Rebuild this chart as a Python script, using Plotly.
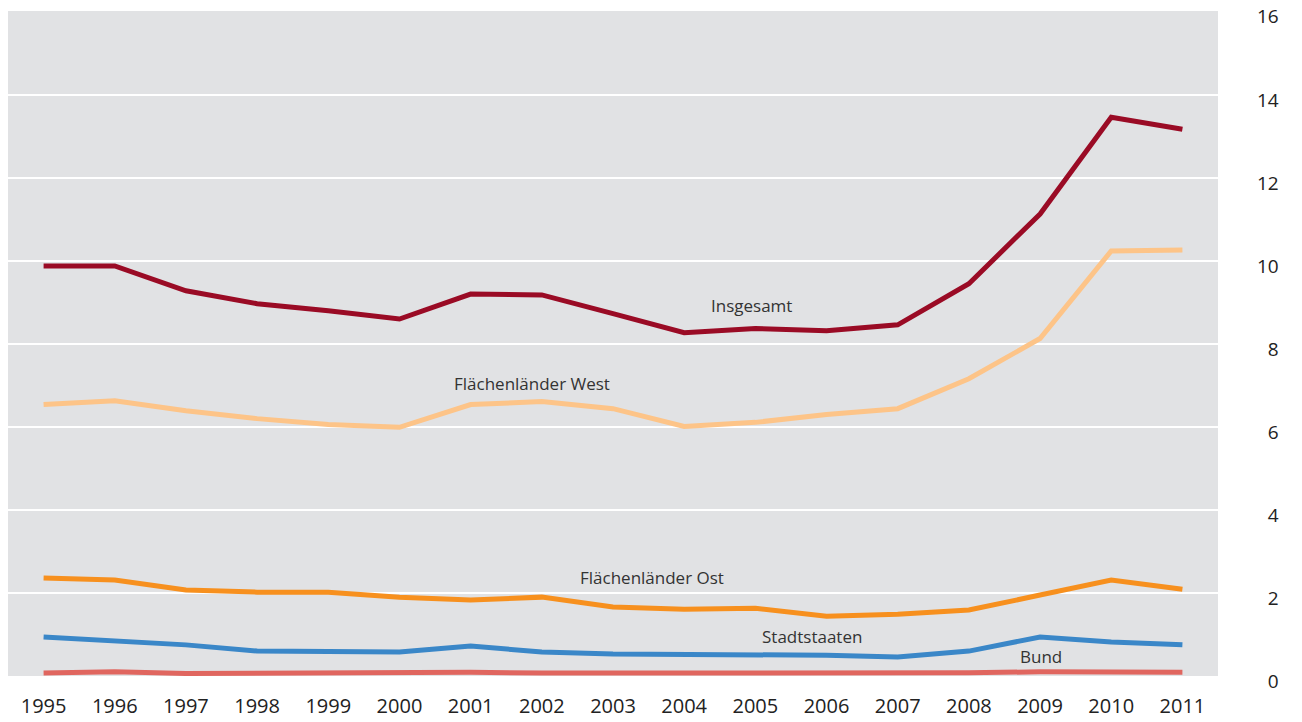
import plotly.graph_objects as go

years = [str(y) for y in range(1995, 2012)]
insgesamt = [9.88, 9.88, 9.28, 8.97, 8.8, 8.6, 9.2, 9.18, 8.73, 8.27, 8.37, 8.32, 8.46, 9.45, 11.13, 13.46, 13.17]
west = [6.54, 6.63, 6.39, 6.2, 6.06, 5.99, 6.54, 6.61, 6.44, 6.01, 6.11, 6.3, 6.44, 7.16, 8.13, 10.24, 10.26]
ost = [2.36, 2.31, 2.07, 2.02, 2.02, 1.9, 1.83, 1.9, 1.66, 1.61, 1.63, 1.44, 1.49, 1.59, 1.95, 2.31, 2.09]
stadt = [0.94, 0.84, 0.75, 0.6, 0.6, 0.58, 0.72, 0.58, 0.53, 0.53, 0.53, 0.5, 0.46, 0.6, 0.94, 0.82, 0.75]
bund = [0.07, 0.1, 0.06, 0.07, 0.08, 0.08, 0.09, 0.07, 0.07, 0.06, 0.06, 0.05, 0.06, 0.08, 0.1, 0.09, 0.09]
y_ticks = [0, 2, 4, 6, 8, 10, 12, 14, 16]

series = [
    ("Bund", bund, "#e0665f"),
    ("Stadtstaaten", stadt, "#3a87c8"),
    ("Flächenländer Ost", ost, "#f7901e"),
    ("Flächenländer West", west, "#fdc488"),
    ("Insgesamt", insgesamt, "#9a0b25"),
]

fig = go.Figure()
for name, vals, col in series:
    fig.add_trace(go.Scatter(x=years, y=vals, mode="lines", name=name,
                             line=dict(color=col, width=5), hoverinfo="x+y+name"))

# label text, position on category axis (fractional index), y value
labels = [
    ("Insgesamt", 9.95, 8.92),
    ("Flächenländer West", 6.86, 7.04),
    ("Flächenländer Ost", 8.55, 2.38),
    ("Stadtstaaten", 10.8, 0.94),
    ("Bund", 14.02, 0.48),
]
for text, xi, yv in labels:
    fig.add_annotation(x=xi, y=yv, xref="x", yref="y", text=text, showarrow=False,
                       font=dict(size=17, color="#333333"))

fig.update_layout(
    width=1302, height=722,
    margin=dict(l=8, r=84, t=11, b=46, autoexpand=False),
    plot_bgcolor="#e1e2e4", paper_bgcolor="white",
    showlegend=False,
    font=dict(family="Open Sans, Noto Sans, sans-serif", size=17, color="#333333"),
)
fig.update_xaxes(type="category", range=[-0.5, 16.5], showgrid=False, zeroline=False,
                 automargin=False,
                 ticks="", tickfont=dict(size=20, color="#222222"), ticklabelstandoff=16)
fig.update_yaxes(range=[0, 16.02], tickvals=y_ticks,
                 ticktext=[("\u2007" + str(v)) if v < 10 else str(v) for v in y_ticks],
                 side="right", showgrid=True, gridcolor="white", ticklabeloverflow="allow",
                 automargin=False, ticklabelshift=5,
                 gridwidth=2, zeroline=False, ticks="", ticklabelstandoff=38,
                 tickfont=dict(size=19, color="#222222"))

fig.write_html("out.html", config={"displayModeBar": False},
               post_script="document.body.style.margin='0';document.body.style.overflow='hidden';")
